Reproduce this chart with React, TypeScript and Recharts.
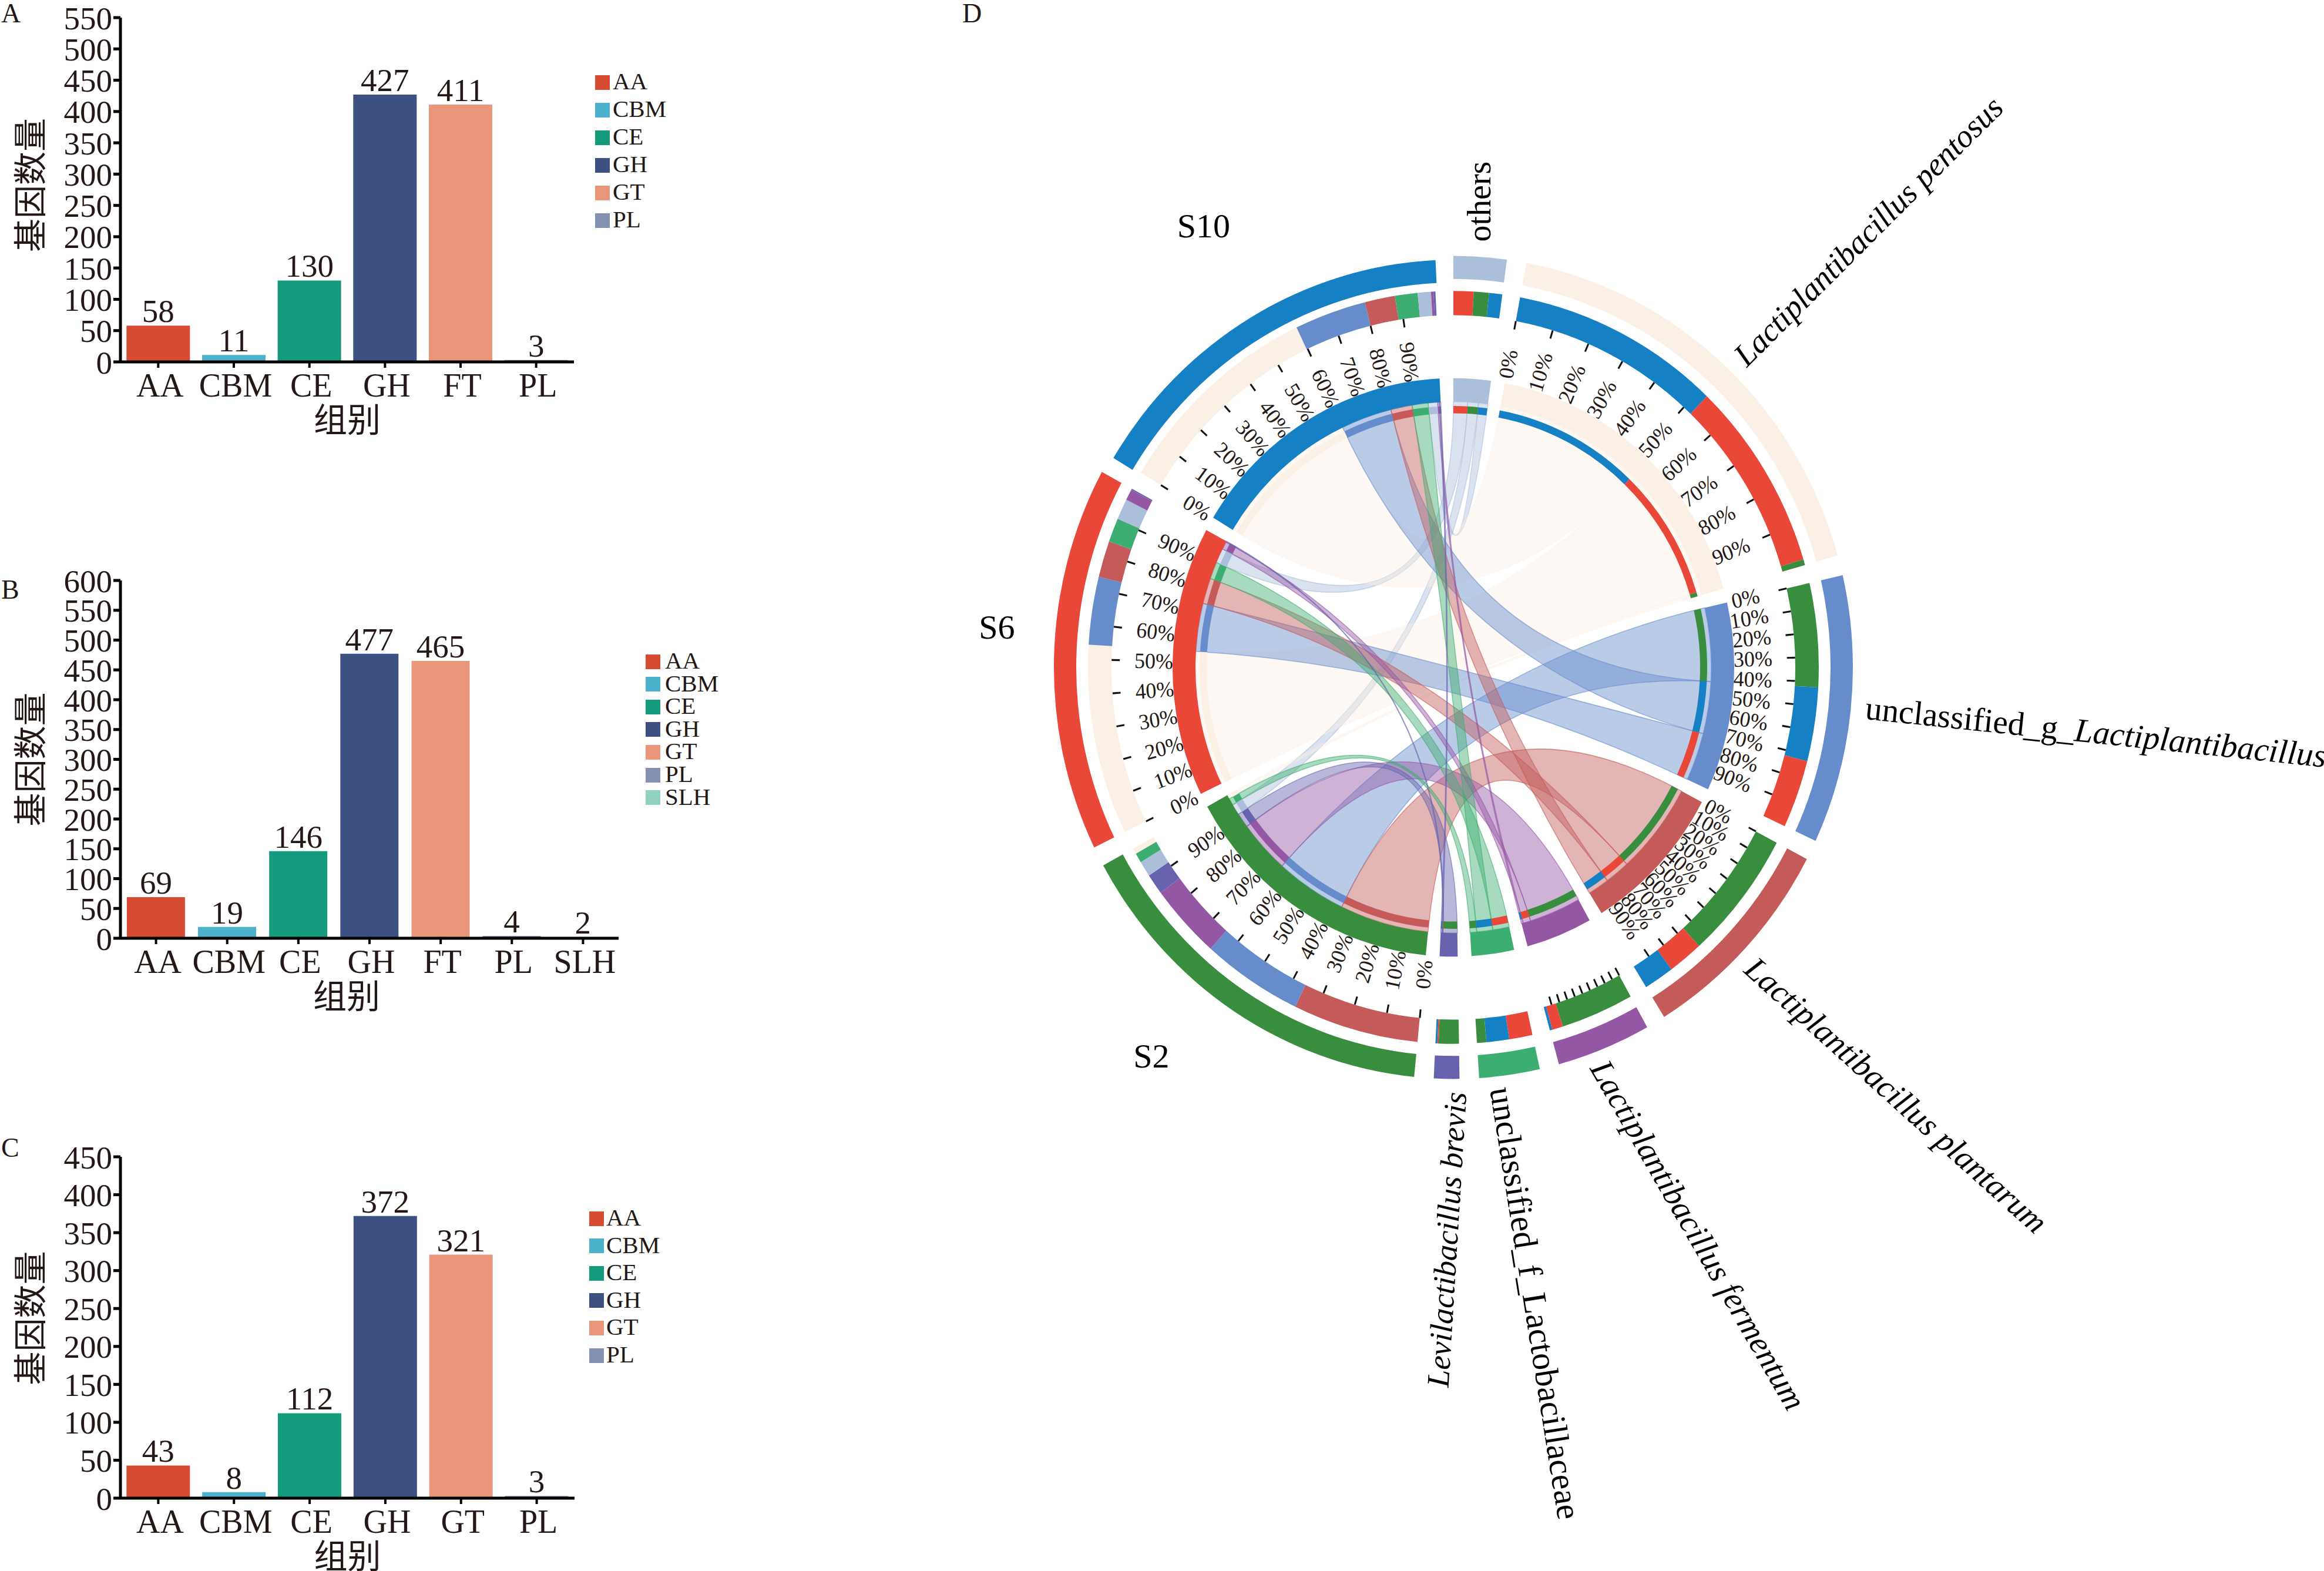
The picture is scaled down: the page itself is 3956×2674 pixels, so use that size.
import { BarChart, Bar, XAxis, YAxis, Cell, LabelList, PieChart, Pie } from 'recharts';

const INK = '#231815';
const SERIF = "'Liberation Serif', 'Noto Sans CJK SC', serif";

// bar panels
const categoriesA = ['AA', 'CBM', 'CE', 'GH', 'FT', 'PL'];
const valuesA = [58, 11, 130, 427, 411, 3];
const ticksA = [0, 50, 100, 150, 200, 250, 300, 350, 400, 450, 500, 550];
const legendA = ['AA', 'CBM', 'CE', 'GH', 'GT', 'PL'];

const categoriesB = ['AA', 'CBM', 'CE', 'GH', 'FT', 'PL', 'SLH'];
const valuesB = [69, 19, 146, 477, 465, 4, 2];
const ticksB = [0, 50, 100, 150, 200, 250, 300, 350, 400, 450, 500, 550, 600];
const legendB = ['AA', 'CBM', 'CE', 'GH', 'GT', 'PL', 'SLH'];

const categoriesC = ['AA', 'CBM', 'CE', 'GH', 'GT', 'PL'];
const valuesC = [43, 8, 112, 372, 321, 3];
const ticksC = [0, 50, 100, 150, 200, 250, 300, 350, 400, 450];
const legendC = ['AA', 'CBM', 'CE', 'GH', 'GT', 'PL'];

const barColors = ['#D84B33', '#4CB1CB', '#169A7E', '#3D5082', '#E9967B', '#8490B1', '#92D1BF'];

// chord diagram: what each sample shares with each species, clockwise order of species
const speciesKeys = ['others', 'pentosus', 'unclassG', 'plantarum', 'fermentum', 'unclassF', 'brevis'];
const speciesColors = ['#ABBEDA', '#FBF0E6', '#668CCB', '#C45A5A', '#9457A3', '#3DAE72', '#6762AE'];
const sampleKeys = ['S2', 'S6', 'S10'];
const sampleColors = ['#388E3E', '#E94738', '#1580C4'];
const flowS2 = [2.4, 0.9, 16.0, 20.0, 11.6, 1.5, 3.2];
const flowS6 = [3.2, 29.4, 10.5, 5.6, 1.7, 3.7, 0.2];
const flowS10 = [2.1, 33.4, 11.4, 4.8, 0.4, 3.6, 0.3];
const percentLabels = ['0%', '10%', '20%', '30%', '40%', '50%', '60%', '70%', '80%', '90%'];

// stacking order inside every sector, clockwise
const partnerOrder: Record<string, string[]> = {
  others: ['S6', 'S2', 'S10'],
  pentosus: ['S10', 'S6', 'S2'],
  unclassG: ['S2', 'S10', 'S6'],
  plantarum: ['S2', 'S6', 'S10'],
  fermentum: ['S2', 'S6', 'S10'],
  unclassF: ['S6', 'S10', 'S2'],
  brevis: ['S2', 'S6', 'S10'],
  S2: ['plantarum', 'unclassG', 'fermentum', 'brevis', 'others', 'unclassF', 'pentosus'],
  S6: ['pentosus', 'unclassG', 'plantarum', 'unclassF', 'others', 'fermentum', 'brevis'],
  S10: ['pentosus', 'unclassG', 'plantarum', 'unclassF', 'others', 'fermentum', 'brevis'],
};
const tickedSectors = ['pentosus', 'unclassG', 'plantarum', 'fermentum', 'S2', 'S6', 'S10'];
const unlabelledSectors = ['fermentum'];

const CX = 800;
const CY = 800;
const RIBBON_R = 439;

const colorOf = (key: string) => {
  const i = speciesKeys.indexOf(key);
  return i >= 0 ? speciesColors[i] : sampleColors[sampleKeys.indexOf(key)];
};
const flowOf = (sp: string, sa: string) => {
  const i = speciesKeys.indexOf(sp);
  return [flowS2, flowS6, flowS10][sampleKeys.indexOf(sa)][i];
};

const allKeys = [...speciesKeys, ...sampleKeys];
const sectorSize = (key: string) =>
  partnerOrder[key].reduce(
    (sum, p) => sum + (speciesKeys.includes(key) ? flowOf(key, p) : flowOf(p, key)),
    0,
  );
const total = allKeys.reduce((s, k) => s + sectorSize(k), 0);
const GAP = (360 - total) / allKeys.length;

// walk round the circle once, angles in degrees clockwise from 12 o'clock
const sectors: any[] = [];
let cursor = 0;
allKeys.forEach((key) => {
  const start = cursor;
  const parts = partnerOrder[key].map((p) => {
    const value = speciesKeys.includes(key) ? flowOf(key, p) : flowOf(p, key);
    const part = { partner: p, value, start: cursor, end: cursor + value };
    cursor += value;
    return part;
  });
  sectors.push({ key, start, end: cursor, parts });
  cursor += GAP;
});

const ringData = sectors.flatMap((s) => [
  { value: s.end - s.start, color: colorOf(s.key) },
  { value: GAP, color: 'none' },
]);
const stackData = sectors.flatMap((s) => [
  ...s.parts.map((p: any) => ({ value: p.value, color: colorOf(p.partner) })),
  { value: GAP, color: 'none' },
]);
// the S10 band of the outermost ring sits a little off the common centre in the reference
const outerRest = sectors.flatMap((s) => [
  { value: s.end - s.start, color: s.key === 'S10' ? 'none' : colorOf(s.key) },
  { value: GAP, color: 'none' },
]);
const outerS10 = sectors.flatMap((s) => [
  { value: s.end - s.start, color: s.key === 'S10' ? colorOf(s.key) : 'none' },
  { value: GAP, color: 'none' },
]);

const polar = (r: number, deg: number) => {
  const a = (deg * Math.PI) / 180;
  return `${(CX + r * Math.sin(a)).toFixed(2)} ${(CY - r * Math.cos(a)).toFixed(2)}`;
};
const ribbonPath = (a0: number, a1: number, b0: number, b1: number) => {
  const r = RIBBON_R;
  return (
    `M ${polar(r, a0)} A ${r} ${r} 0 0 1 ${polar(r, a1)} ` +
    `Q ${CX} ${CY} ${polar(r, b0)} A ${r} ${r} 0 0 1 ${polar(r, b1)} ` +
    `Q ${CX} ${CY} ${polar(r, a0)} Z`
  );
};

function Ribbons() {
  const out: any[] = [];
  speciesKeys.forEach((sp) => {
    const s = sectors.find((x) => x.key === sp);
    s.parts.forEach((p: any) => {
      const t = sectors.find((x) => x.key === p.partner);
      const q = t.parts.find((x: any) => x.partner === sp);
      const pale = sp === 'pentosus';
      out.push(
        <path
          key={`${sp}-${p.partner}`}
          d={ribbonPath(p.start, p.end, q.start, q.end)}
          fill={colorOf(sp)}
          fillOpacity={pale ? 0.45 : 0.45}
          stroke={colorOf(sp)}
          strokeOpacity={pale ? 0.3 : 0.6}
          strokeWidth={1.5}
        />,
      );
    });
  });
  return <g>{out}</g>;
}

function PercentTicks() {
  const out: any[] = [];
  sectors
    .filter((s) => tickedSectors.includes(s.key))
    .forEach((s) => {
      percentLabels.forEach((label, i) => {
        const a = s.start + ((s.end - s.start) * i) / percentLabels.length;
        const [x0, y0] = polar(568, a).split(' ');
        const [x1, y1] = polar(582, a).split(' ');
        const [tx, ty] = polar(510, a).split(' ');
        out.push(<line key={`${s.key}-t${i}`} x1={x0} y1={y0} x2={x1} y2={y1} stroke="#111" strokeWidth={3} />);
        if (!unlabelledSectors.includes(s.key)) {
          const rot = a < 180 ? a - 90 : a + 90;
          out.push(
            <text
              key={`${s.key}-l${i}`}
              x={tx}
              y={ty}
              transform={`rotate(${rot} ${tx} ${ty})`}
              textAnchor="middle"
              dominantBaseline="central"
              fontSize={36}
              fontFamily={SERIF}
              fill={INK}
            >
              {label}
            </text>,
          );
        }
      });
    });
  return <g>{out}</g>;
}

function Ring({ data, inner, outer, cx = CX, cy = CY }: { data: any[]; inner: number; outer: number; cx?: number; cy?: number }) {
  return (
    <Pie
      data={data}
      dataKey="value"
      cx={cx}
      cy={cy}
      innerRadius={inner}
      outerRadius={outer}
      startAngle={90}
      endAngle={-270}
      stroke="none"
      isAnimationActive={false}
    >
      {data.map((d, i) => (
        <Cell key={i} fill={d.color} stroke="none" />
      ))}
    </Pie>
  );
}

function ChordPanel() {
  return (
    <div style={{ position: 'absolute', left: 1674, top: 336, transform: 'scaleY(1.03)', transformOrigin: '800px 800px' }}>
      <PieChart width={1600} height={1600} margin={{ top: 0, right: 0, bottom: 0, left: 0 }}>
        <Ribbons />
        <PercentTicks />
        {Ring({ data: outerRest, inner: 642, outer: 680 })}
        {Ring({ data: outerS10, inner: 642, outer: 680, cx: 803, cy: 806 })}
        {Ring({ data: stackData, inner: 582, outer: 622 })}
        {Ring({ data: ringData, inner: 439, outer: 478 })}
        {Ring({ data: stackData, inner: 420, outer: 432 })}
      </PieChart>
    </div>
  );
}

function BarPanel({ categories, values, ticks, legend, top, plotHeight, plotRight, gap, legendLeft, legendTextLeft, legendTop, legendStep, yTitleDy, xTitleDx }: any) {
  const data = categories.map((name: string, i: number) => ({ name, value: values[i] }));
  const tickFont = { fontSize: 55, fontFamily: SERIF, fill: INK };
  const titleStyle = { fontSize: 57, fontFamily: SERIF, fill: INK };
  return (
    <>
      <div style={{ position: 'absolute', left: 0, top }}>
        <BarChart
          width={plotRight + 40}
          height={30 + plotHeight + 140}
          data={data}
          margin={{ top: 30, right: 40, bottom: 0, left: 0 }}
          barCategoryGap={gap}
        >
          <XAxis
            dataKey="name"
            height={140}
            interval={0}
            tickSize={10}
            tickMargin={9}
            tick={{ ...tickFont, fontSize: 56, dx: 3 }}
            tickLine={{ stroke: '#000', strokeWidth: 4 }}
            axisLine={{ stroke: '#000', strokeWidth: 5 }}
            label={{ value: '组别', position: 'insideBottom', offset: 21, dx: xTitleDx, ...titleStyle }}
          />
          <YAxis
            width={205}
            domain={[0, ticks[ticks.length - 1]]}
            ticks={ticks}
            interval={0}
            tickSize={12}
            tickMargin={2}
            tick={tickFont}
            tickLine={{ stroke: '#000', strokeWidth: 5 }}
            axisLine={{ stroke: '#000', strokeWidth: 5 }}
            label={{
              value: '基因数量',
              angle: -90,
              position: 'insideLeft',
              offset: 52,
              dy: yTitleDy,
              style: { textAnchor: 'middle' },
              ...titleStyle,
            }}
          />
          <Bar dataKey="value" isAnimationActive={false}>
            {data.map((_: any, i: number) => (
              <Cell key={i} fill={barColors[i]} />
            ))}
            <LabelList dataKey="value" position="top" offset={6} {...tickFont} />
          </Bar>
        </BarChart>
      </div>
      {legend.map((name: string, i: number) => (
        <div key={name}>
          <div
            style={{
              position: 'absolute',
              left: legendLeft,
              top: legendTop + legendStep * i - 12.5,
              width: 25,
              height: 25,
              background: barColors[i],
            }}
          />
          <div
            style={{
              position: 'absolute',
              left: legendTextLeft,
              top: legendTop + legendStep * i - 27,
              height: 50,
              lineHeight: '50px',
              fontSize: 41,
              fontFamily: SERIF,
              color: INK,
            }}
          >
            {name}
          </div>
        </div>
      ))}
    </>
  );
}

// free text that belongs to the chord diagram and the panels
const panelLetters = [
  { text: 'A', x: 2, y: 38 },
  { text: 'B', x: 2, y: 1019 },
  { text: 'C', x: 2, y: 1969 },
  { text: 'D', x: 1638, y: 38 },
];
const sampleLabels = [
  { text: 'S10', x: 2049, y: 404 },
  { text: 'S6', x: 1697, y: 1087 },
  { text: 'S2', x: 1960, y: 1817 },
];
const sectorLabels = [
  { plain: 'others', x: 2518, y: 343, rot: -90, size: 56 },
  { italic: 'Lactiplantibacillus pentosus', x: 3180, y: 393, rot: -45, size: 55 },
  { plain: 'unclassified_g_', italic: 'Lactiplantibacillus', x: 3568, y: 1245, rot: 6, size: 57 },
  { italic: 'Lactiplantibacillus plantarum', x: 3228, y: 1864, rot: 42, size: 56 },
  { italic: 'Lactiplantibacillus fermentum', x: 2891, y: 2102, rot: 60, size: 56 },
  { plain: 'unclassified_f_Lactobacillaceae', x: 2614, y: 2218, rot: 81, size: 58 },
  { italic: 'Levilactibacillus brevis', x: 2463, y: 2110, rot: -86.5, size: 54 },
];

function FreeText() {
  return (
    <svg width={3956} height={2674} style={{ position: 'absolute', left: 0, top: 0, pointerEvents: 'none' }} fontFamily={SERIF} fill={INK}>
      {panelLetters.map((l) => (
        <text key={l.text} x={l.x} y={l.y} fontSize={46}>
          {l.text}
        </text>
      ))}
      {sampleLabels.map((l) => (
        <text key={l.text} x={l.x} y={l.y} fontSize={58} textAnchor="middle" fill="#000">
          {l.text}
        </text>
      ))}
      {sectorLabels.map((l, i) => (
        <text
          key={i}
          x={l.x}
          y={l.y}
          fontSize={l.size}
          fill="#000"
          textAnchor="middle"
          dominantBaseline="central"
          transform={`rotate(${l.rot} ${l.x} ${l.y})`}
        >
          {l.plain && <tspan>{l.plain}</tspan>}
          {l.italic && <tspan fontStyle="italic">{l.italic}</tspan>}
        </text>
      ))}
    </svg>
  );
}

export default function App() {
  return (
    <div style={{ position: 'absolute', left: 0, top: 0, width: 3956, height: 2674, overflow: 'hidden', background: '#fff' }}>
      <BarPanel
        categories={categoriesA}
        values={valuesA}
        ticks={ticksA}
        legend={legendA}
        top={0}
        plotHeight={586}
        plotRight={977}
        gap="8%"
        legendLeft={1013}
        legendTextLeft={1043}
        legendTop={140}
        legendStep={47}
        yTitleDy={-8}
        xTitleDx={0}
      />
      <BarPanel
        categories={categoriesB}
        values={valuesB}
        ticks={ticksB}
        legend={legendB}
        top={958}
        plotHeight={609}
        plotRight={1053}
        gap="9%"
        legendLeft={1099}
        legendTextLeft={1132}
        legendTop={1126}
        legendStep={38.6}
        yTitleDy={0}
        xTitleDx={-39}
      />
      <BarPanel
        categories={categoriesC}
        values={valuesC}
        ticks={ticksC}
        legend={legendC}
        top={1939}
        plotHeight={581}
        plotRight={978}
        gap="8%"
        legendLeft={1003}
        legendTextLeft={1032}
        legendTop={2074}
        legendStep={46.6}
        yTitleDy={-16}
        xTitleDx={0}
      />
      <ChordPanel />
      <FreeText />
    </div>
  );
}
